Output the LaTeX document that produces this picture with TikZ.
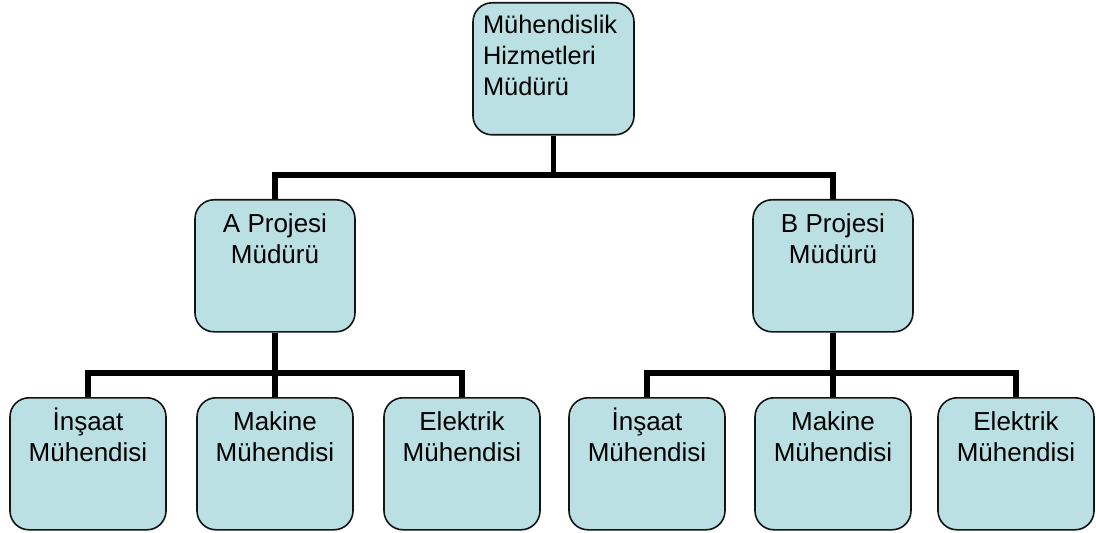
\documentclass[tikz,border=0pt]{standalone}
\usepackage{fontspec}
\setmainfont{Liberation Sans}
\definecolor{boxfill}{RGB}{187,224,227}
\definecolor{boxline}{RGB}{20,20,20}
\begin{document}
\begin{tikzpicture}[x=1bp,y=-1bp,
  boxlook/.style={draw=boxline, line width=1.6bp, fill=boxfill,
    rounded corners=19bp, inner sep=0pt, anchor=north,
    minimum width=#1, minimum height=132bp},
  boxlook/.default=160bp,
  unitbox/.style={boxlook,
    execute at begin node={\begin{minipage}[t][132bp][t]{160bp}\centering
      \fontsize{26bp}{31bp}\selectfont\rule{0pt}{33bp}},
    execute at end node={\end{minipage}}},
  leafbox/.style={boxlook=156bp,
    execute at begin node={\begin{minipage}[t][132bp][t]{156bp}\centering
      \fontsize{26bp}{31bp}\selectfont\rule{0pt}{33bp}},
    execute at end node={\end{minipage}}},
  headbox/.style={boxlook=161bp,
    execute at begin node={\begin{minipage}[t][132bp][t]{161bp}\raggedright
      \leftskip=10bp\fontsize{25.4bp}{31bp}\selectfont\rule{0pt}{31bp}},
    execute at end node={\end{minipage}}},
  conn/.style={line width=5.5bp, black}]

\useasboundingbox (0,0) rectangle (1096,533);

% head of the department
\node[headbox] (head) at (553.5,2) {Mühendislik\\Hizmetleri\\Müdürü};

% project managers
\node[unitbox] (pa) at (275,199) {A Projesi\\Müdürü};
\node[unitbox] (pb) at (833,199) {B Projesi\\Müdürü};

% engineers of project A
\node[leafbox] (a1) at (88,397)  {İnşaat\\Mühendisi};
\node[leafbox] (a2) at (275,397) {Makine\\Mühendisi};
\node[leafbox] (a3) at (462,397) {Elektrik\\Mühendisi};

% engineers of project B
\node[leafbox] (b1) at (647,397)  {İnşaat\\Mühendisi};
\node[leafbox] (b2) at (833,397)  {Makine\\Mühendisi};
\node[leafbox] (b3) at (1016,397) {Elektrik\\Mühendisi};

% connectors
\draw[conn] (head.south) -- ++(0,42);
\draw[conn] (pa.north) -- ++(0,-24) -| (pb.north);

\draw[conn] (pa.south) -- (a2.north);
\draw[conn] (a1.north) -- ++(0,-24) -| (a3.north);

\draw[conn] (pb.south) -- (b2.north);
\draw[conn] (b1.north) -- ++(0,-24) -| (b3.north);
\end{tikzpicture}
\end{document}
